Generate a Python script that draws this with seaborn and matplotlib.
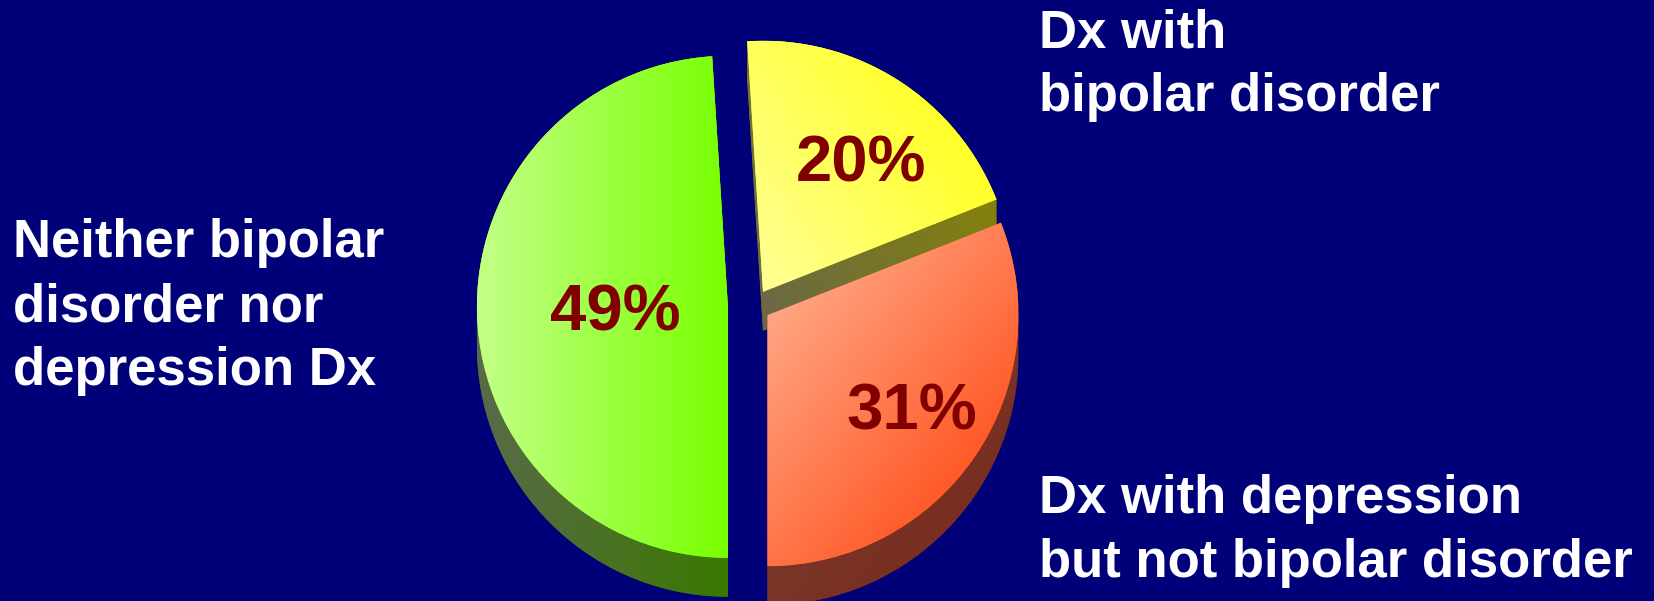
import numpy as np
import matplotlib
matplotlib.use("Agg")
import matplotlib.pyplot as plt
from matplotlib.path import Path
from matplotlib.patches import PathPatch
import seaborn as sns

# --- data -------------------------------------------------------------
categories = [
    "Neither bipolar\ndisorder nor\ndepression Dx",
    "Dx with depression\nbut not bipolar disorder",
    "Dx with\nbipolar disorder",
]
shares = [49, 31, 20]

# --- style ------------------------------------------------------------
BG = "#000078"
PCT_COLOR = "#800000"
face_light = ["#c4ff88", "#ffa684", "#ffff96"]
face_dark = ["#78ff00", "#ff5a28", "#ffff28"]
side_light = ["#5a6a4a", "#7a4434", "#6a6848"]
side_dark = ["#3a7800", "#782e20", "#84820a"]
shade_angle = [0, -40, 35]          # direction in which each face darkens (deg)
explode = [0.104, 0.065, 0.067]
depth = 0.155                       # thickness of the 3-D pie, in radii
pct_dist = [0.45, 0.68, 0.66]
pct_turn = [-1.8, 1.9, -4.0]
label_anchor = [(13, 257), (1039, 513), (1039, 47)]   # left x, first baseline (px)
line_gap = 64

W, H, DPI = 1654, 601, 100
cx_px, cy_px, r_px = 754, 306, 251

sns.set_theme(style="white", rc={"figure.facecolor": BG, "axes.facecolor": BG,
                                 "savefig.facecolor": BG})
plt.rcParams["font.family"] = ["Liberation Sans", "DejaVu Sans"]

fig = plt.figure(figsize=(W / DPI, H / DPI), dpi=DPI)
ax = fig.add_axes([0, 0, 1, 1])

wedges, _ = ax.pie(shares, explode=explode, startangle=93.6, counterclock=True,
                   radius=1, wedgeprops=dict(linewidth=0))


def outline(w, n=240):
    t = np.radians(np.linspace(w.theta1, w.theta2, n))
    cx, cy = w.center
    xs = np.r_[cx, cx + w.r * np.cos(t), cx]
    ys = np.r_[cy, cy + w.r * np.sin(t), cy]
    return np.column_stack([xs, ys])


def convex_hull(pts):
    pts = sorted(set(map(tuple, np.round(pts, 6))))

    def cross(o, a, b):
        return (a[0] - o[0]) * (b[1] - o[1]) - (a[1] - o[1]) * (b[0] - o[0])

    lower, upper = [], []
    for p in pts:
        while len(lower) >= 2 and cross(lower[-2], lower[-1], p) <= 0:
            lower.pop()
        lower.append(p)
    for p in reversed(pts):
        while len(upper) >= 2 and cross(upper[-2], upper[-1], p) <= 0:
            upper.pop()
        upper.append(p)
    return np.array(lower[:-1] + upper[:-1])


def gradient_fill(clip, pts, c0, c1, angle, z):
    xmin, ymin = pts.min(0)
    xmax, ymax = pts.max(0)
    X, Y = np.meshgrid(np.linspace(xmin, xmax, 500), np.linspace(ymin, ymax, 500))
    d = np.array([np.cos(np.radians(angle)), np.sin(np.radians(angle))])
    p = pts @ d
    t = (X * d[0] + Y * d[1] - p.min()) / (p.max() - p.min())
    cmap = sns.blend_palette([c0, c1], as_cmap=True)
    im = ax.imshow(t, cmap=cmap, vmin=0, vmax=1, extent=(xmin, xmax, ymin, ymax),
                   origin="lower", interpolation="bilinear", aspect="auto", zorder=z)
    im.set_clip_path(clip)


for i, w in enumerate(wedges):
    top = outline(w)
    # side walls: region swept by the top face moving down by the depth
    side = convex_hull(np.vstack([top, top - [0, depth]]))
    side_patch = PathPatch(Path(np.vstack([side, side[:1]]), closed=True),
                           facecolor=side_dark[i], linewidth=0, zorder=1)
    ax.add_patch(side_patch)
    gradient_fill(side_patch, side, side_light[i], side_dark[i], shade_angle[i], 1.5)

    w.set_facecolor(face_dark[i])
    w.set_zorder(3)
    gradient_fill(w, top, face_light[i], face_dark[i], shade_angle[i], 3.5)

# percentage labels inside the slices
pct_px = 47 * DPI / 72
cap = 0.716 * pct_px / r_px
for w, v, d, turn in zip(wedges, shares, pct_dist, pct_turn):
    a = np.radians((w.theta1 + w.theta2) / 2 + turn)
    x = w.center[0] + d * w.r * np.cos(a)
    y = w.center[1] + d * w.r * np.sin(a) - cap / 2
    ax.text(x, y, f"{v}%", ha="center", va="baseline", fontsize=47,
            fontweight="bold", color=PCT_COLOR, zorder=6)

ax.set_aspect("auto")
ax.set_xlim(-cx_px / r_px, (W - cx_px) / r_px)
ax.set_ylim(-(H - cy_px) / r_px, cy_px / r_px)
ax.axis("off")

# category captions around the pie
for text, (lx, ly) in zip(categories, label_anchor):
    for k, line in enumerate(text.split("\n")):
        fig.text(lx / W, 1 - (ly + k * line_gap) / H, line, ha="left", va="baseline",
                 color="white", fontsize=38, fontweight="bold")

fig.savefig("out.png", dpi=DPI, facecolor=BG)
